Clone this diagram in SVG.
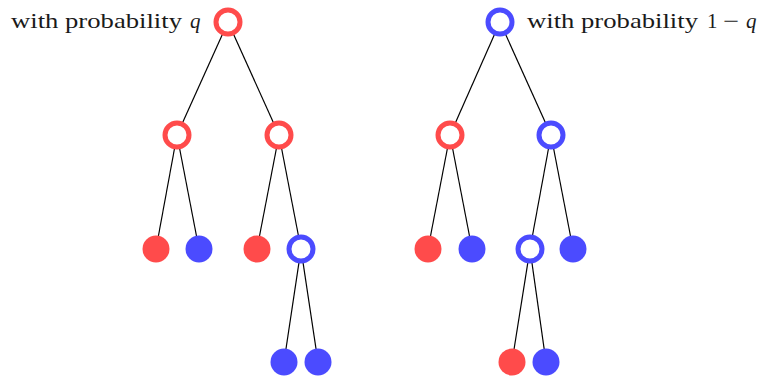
<svg xmlns="http://www.w3.org/2000/svg" width="763" height="379" viewBox="0 0 763 379">
<style>
.e{stroke:#000;stroke-width:1.2;fill:none}
.rr{fill:#fff;stroke:#FF4B4B;stroke-width:5}
.br{fill:#fff;stroke:#4B4BFF;stroke-width:5}
.rf{fill:#FF4B4B}
.bf{fill:#4B4BFF}
text{font-family:"Liberation Serif","Times New Roman",serif;font-size:21px;fill:#1a1a1a}
.it{font-style:italic}
</style>
<rect width="763" height="379" fill="#fff"/>
<g id="connectors">
<line class="e" x1="228" y1="22" x2="177" y2="135"/>
<line class="e" x1="228" y1="22" x2="279" y2="135"/>
<line class="e" x1="177" y1="135" x2="156" y2="249"/>
<line class="e" x1="177" y1="135" x2="199" y2="249"/>
<line class="e" x1="279" y1="135" x2="257" y2="249"/>
<line class="e" x1="279" y1="135" x2="301" y2="249"/>
<line class="e" x1="301" y1="249" x2="284" y2="362"/>
<line class="e" x1="301" y1="249" x2="318" y2="362"/>
<line class="e" x1="500" y1="22" x2="450" y2="135"/>
<line class="e" x1="500" y1="22" x2="551" y2="135"/>
<line class="e" x1="450" y1="135" x2="428" y2="249"/>
<line class="e" x1="450" y1="135" x2="472" y2="249"/>
<line class="e" x1="551" y1="135" x2="530" y2="249"/>
<line class="e" x1="551" y1="135" x2="573" y2="249"/>
<line class="e" x1="530" y1="249" x2="512" y2="362"/>
<line class="e" x1="530" y1="249" x2="546" y2="362"/>
</g>
<g id="L0"><circle class="rr" cx="228" cy="22" r="12"/></g>
<g id="L1a"><circle class="rr" cx="177" cy="135" r="12"/></g>
<g id="L1b"><circle class="rr" cx="279" cy="135" r="12"/></g>
<g id="L2a"><circle class="rf" cx="156" cy="249" r="13.5"/></g>
<g id="L2b"><circle class="bf" cx="199" cy="249" r="13.5"/></g>
<g id="L2c"><circle class="rf" cx="257" cy="249" r="13.5"/></g>
<g id="L2d"><circle class="br" cx="301" cy="249" r="12"/></g>
<g id="L3a"><circle class="bf" cx="284" cy="362" r="13.5"/></g>
<g id="L3b"><circle class="bf" cx="318" cy="362" r="13.5"/></g>
<g id="R0"><circle class="br" cx="500" cy="22" r="12"/></g>
<g id="R1a"><circle class="rr" cx="450" cy="135" r="12"/></g>
<g id="R1b"><circle class="br" cx="551" cy="135" r="12"/></g>
<g id="R2a"><circle class="rf" cx="428" cy="249" r="13.5"/></g>
<g id="R2b"><circle class="bf" cx="472" cy="249" r="13.5"/></g>
<g id="R2c"><circle class="br" cx="530" cy="249" r="12"/></g>
<g id="R2d"><circle class="bf" cx="573" cy="249" r="13.5"/></g>
<g id="R3a"><circle class="rf" cx="512" cy="362" r="13.5"/></g>
<g id="R3b"><circle class="bf" cx="546" cy="362" r="13.5"/></g>
<g id="labels">
<text x="11" y="28" textLength="171" lengthAdjust="spacingAndGlyphs">with probability</text>
<text class="it" x="190" y="28">q</text>
<text x="527" y="28" textLength="171" lengthAdjust="spacingAndGlyphs">with probability</text>
<text x="707" y="28">1</text>
<text x="723" y="28" textLength="16" lengthAdjust="spacingAndGlyphs">−</text>
<text class="it" x="746" y="28">q</text>
</g>
</svg>
